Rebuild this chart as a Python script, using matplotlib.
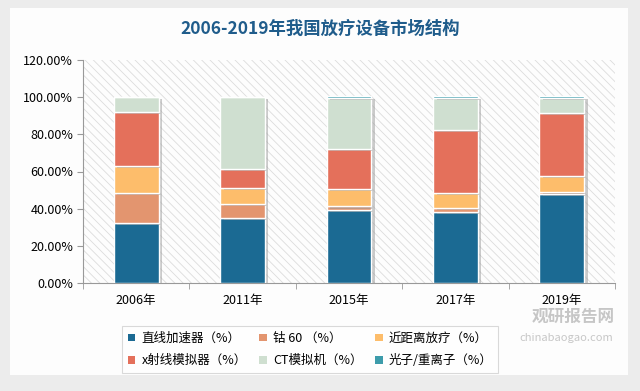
import matplotlib.pyplot as plt
import matplotlib.patches as mpatches
import matplotlib.patheffects as pe
import numpy as np
from matplotlib.ticker import FuncFormatter

plt.rcParams['font.family'] = ['Noto Sans CJK SC', 'DejaVu Sans']
plt.rcParams['hatch.color'] = '#dcdcdc'
plt.rcParams['hatch.linewidth'] = 0.6

# 数据（%）
years = ["2006年", "2011年", "2015年", "2017年", "2019年"]
linac = [32.3, 35.1, 39.1, 38.4, 47.7]
cobalt = [16.1, 7.6, 2.1, 1.8, 1.1]
brachy = [14.7, 8.6, 9.3, 8.2, 8.6]
xray_sim = [29.0, 10.0, 21.5, 34.1, 34.0]
ct_sim = [7.9, 38.7, 27.7, 17.2, 8.3]
proton = [0.0, 0.0, 0.7, 0.7, 0.7]

series = [
    ("直线加速器（%）", linac, "#1b6a93"),
    ("钴 60 （%）", cobalt, "#e3956f"),
    ("近距离放疗（%）", brachy, "#fdbd6b"),
    ("x射线模拟器（%）", xray_sim, "#e4705b"),
    ("CT模拟机（%）", ct_sim, "#cfdfd0"),
    ("光子/重离子（%）", proton, "#3d9cab"),
]

fig = plt.figure(figsize=(6.4, 3.91), dpi=100)
fig.patch.set_facecolor("#ececec")
# 白色面板
panel = mpatches.Rectangle((10 / 640, 16 / 391), 618 / 640, 367 / 391,
                           transform=fig.transFigure, facecolor="#fdfdfd",
                           edgecolor="none", zorder=-5)
fig.patches.append(panel)

ax = fig.add_axes([83 / 640, 108 / 391, 532 / 640, 223 / 391])
ax.set_facecolor("#fdfdfd")
bg = mpatches.Rectangle((0, 0), 1, 1, transform=ax.transAxes, facecolor="none",
                        edgecolor="#dcdcdc", hatch="\\\\\\\\", linewidth=0, zorder=0)
ax.add_patch(bg)

x = np.arange(len(years))
bottom = np.zeros(len(years))
shadow = [pe.SimplePatchShadow(offset=(2.5, -1.5), shadow_rgbFace="#999999", alpha=0.5), pe.Normal()]
handles = []
for label, vals, color in series:
    bars = ax.bar(x, vals, width=0.42, bottom=bottom, color=color, edgecolor="white",
                  linewidth=1.0, label=label, zorder=3)
    for b in bars:
        b.set_path_effects(shadow)
    handles.append(mpatches.Patch(facecolor=color, edgecolor="none"))
    bottom += np.array(vals)

ax.set_xlim(-0.5, len(years) - 0.5)
ax.set_ylim(0, 120)
ax.set_yticks(np.arange(0, 121, 20))
ax.yaxis.set_major_formatter(FuncFormatter(lambda v, p: f"{v:.2f}%"))
ax.set_xticks(x)
ax.set_xticklabels(years)
ax.set_xticks(np.arange(-0.5, len(years), 1), minor=True)
ax.tick_params(axis="x", which="major", length=0, pad=8, labelsize=9)
ax.tick_params(axis="x", which="minor", length=4, color="#999999")
ax.tick_params(axis="y", length=4, color="#999999", labelsize=9, pad=3)
for s in ["top", "right"]:
    ax.spines[s].set_visible(False)
ax.spines["left"].set_color("#999999")
ax.spines["bottom"].set_color("#999999")

fig.text(0.5, 0.925, "2006-2019年我国放疗设备市场结构", ha="center", va="center",
         fontsize=12.5, fontweight="bold", color="#1f5c8b")

# 图例按行排列：重新排序以适应列优先填充
order = [0, 3, 1, 4, 2, 5]
leg = fig.legend([handles[i] for i in order], [series[i][0] for i in order],
                 loc="upper left", bbox_to_anchor=(116 / 640, 1 - 320 / 391),
                 ncol=3, fontsize=9, frameon=True, fancybox=False, handlelength=0.6,
                 handleheight=0.6, columnspacing=1.0, handletextpad=0.5,
                 borderpad=0.45, labelspacing=0.75)
leg.get_frame().set_edgecolor("#d0d0d0")
leg.get_frame().set_linewidth(0.8)

# 水印
fig.text(0.895, 0.19, "观研报告网", ha="center", va="center", fontsize=12,
         fontweight="bold", color="#9a9a9a", alpha=0.55)
fig.text(0.885, 0.135, "chinabaogao.com", ha="center", va="center", fontsize=8,
         color="#9a9a9a", alpha=0.55)

plt.savefig("out.png", dpi=100, facecolor=fig.get_facecolor())
